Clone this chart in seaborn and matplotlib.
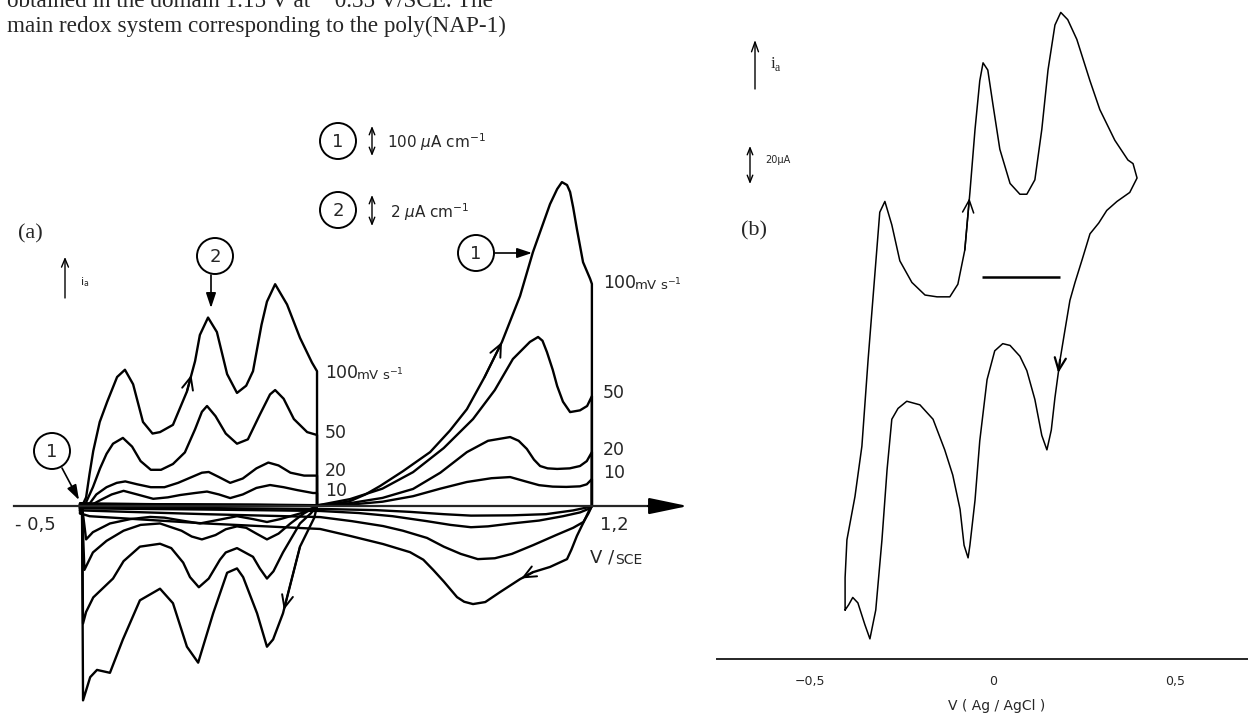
import matplotlib
matplotlib.use("Agg")
import matplotlib.pyplot as plt
from matplotlib.patches import Ellipse, FancyArrowPatch
import pandas as pd
import seaborn as sns

sns.set_style("white")
plt.rcParams["font.family"] = ["DejaVu Sans"]
plt.rcParams["lines.solid_joinstyle"] = "round"
plt.rcParams["lines.solid_capstyle"] = "round"

W, H = 1248, 715

# ---------------- (a) poly(NAP-1) film, cyclic voltammograms ----------------
scan_rates = ["100", "50", "20", "10"]

# redox system (2): potential in V/SCE, current in uA cm-1 (2 uA cm-1 scale)
s2_100_V = [-0.362, -0.350, -0.340, -0.329, -0.310, -0.288, -0.259, -0.236, -0.212, -0.183,
            -0.155, -0.133, -0.095, -0.054, -0.030, -0.016, 0.008, 0.034, 0.064, 0.093,
            0.120, 0.140, 0.165, 0.181, 0.205, 0.240, 0.278, 0.313, 0.328,
            0.328, 0.320, 0.278, 0.228, 0.199, 0.181, 0.152, 0.111, 0.093, 0.064,
            0.023, -0.021, -0.054, -0.095, -0.133, -0.192, -0.242, -0.280, -0.318, -0.338,
            -0.359, -0.362]
s2_100_i = [0.0, 0.6, 2.2, 3.8, 5.8, 7.2, 8.9, 9.4, 8.4, 5.8,
            5.0, 5.1, 5.6, 7.9, 10.0, 11.8, 13.0, 12.0, 9.1, 7.8,
            8.3, 9.3, 12.5, 14.1, 15.3, 13.9, 11.6, 9.9, 9.3,
            0.0, -0.8, -2.8, -7.4, -9.2, -9.7, -7.4, -4.9, -4.3, -4.6,
            -7.4, -10.8, -9.7, -6.7, -5.7, -6.5, -9.2, -11.5, -11.3, -11.8,
            -13.4, 0.0]

s2_50_V = [-0.355, -0.330, -0.309, -0.290, -0.271, -0.242, -0.215, -0.190, -0.160, -0.130,
           -0.095, -0.060, -0.030, -0.010, 0.005, 0.030, 0.060, 0.093, 0.125, 0.160,
           0.190, 0.205, 0.230, 0.260, 0.299, 0.328,
           0.328, 0.310, 0.278, 0.228, 0.200, 0.181, 0.160, 0.140, 0.093, 0.060,
           0.043, 0.010, -0.019, -0.045, -0.065, -0.100, -0.133, -0.192, -0.240, -0.271,
           -0.329, -0.350, -0.359, -0.362]
s2_50_i = [0.0, 1.3, 2.6, 3.6, 4.3, 4.7, 4.1, 3.1, 2.5, 2.5,
           2.9, 3.7, 5.3, 6.5, 6.9, 6.2, 5.0, 4.3, 4.6, 6.3,
           7.7, 8.0, 7.4, 6.0, 5.1, 4.9,
           0.0, -0.5, -1.2, -3.2, -4.5, -5.0, -4.3, -3.5, -2.9, -3.2,
           -3.7, -5.0, -5.6, -4.9, -3.9, -2.9, -2.6, -2.8, -3.8, -5.0,
           -6.3, -7.3, -8.1, 0.0]

s2_20_V = [-0.345, -0.320, -0.290, -0.260, -0.235, -0.200, -0.160, -0.120, -0.080, -0.040,
           -0.010, 0.010, 0.040, 0.073, 0.110, 0.150, 0.185, 0.215, 0.250, 0.290, 0.328,
           0.328, 0.290, 0.250, 0.215, 0.181, 0.150, 0.120, 0.093, 0.060, 0.030,
           -0.010, -0.040, -0.070, -0.133, -0.190, -0.240, -0.290, -0.330, -0.355, -0.362]
s2_20_i = [0.0, 0.8, 1.3, 1.6, 1.7, 1.5, 1.3, 1.3, 1.6, 2.0,
           2.3, 2.35, 2.0, 1.6, 1.9, 2.6, 3.0, 2.8, 2.3, 2.1, 2.1,
           0.0, -0.5, -1.2, -1.9, -2.3, -1.9, -1.5, -1.4, -1.6, -2.0,
           -2.3, -2.1, -1.7, -1.2, -1.3, -1.7, -2.4, -3.2, -4.4, 0.0]

s2_10_V = [-0.340, -0.309, -0.275, -0.240, -0.200, -0.153, -0.110, -0.074, -0.030, 0.005,
           0.040, 0.073, 0.110, 0.150, 0.190, 0.230, 0.270, 0.316, 0.328,
           0.328, 0.280, 0.220, 0.181, 0.140, 0.093, 0.050, -0.016, -0.070, -0.120,
           -0.162, -0.220, -0.280, -0.330, -0.350, -0.362]
s2_10_i = [0.0, 0.4, 0.8, 1.05, 0.8, 0.5, 0.6, 0.76, 0.9, 1.0,
           0.8, 0.55, 0.8, 1.25, 1.45, 1.3, 1.1, 0.9, 0.9,
           0.0, -0.5, -0.9, -1.1, -0.9, -0.7, -0.9, -1.2, -1.0, -0.8,
           -0.75, -0.9, -1.2, -1.8, -2.3, 0.0]

# redox system (1): current in uA cm-1 (100 uA cm-1 scale)
s1_100_V = [-0.368, -0.368, -0.300, -0.100, 0.150, 0.328, 0.380, 0.425, 0.470, 0.513,
            0.580, 0.660, 0.718, 0.768, 0.820, 0.871, 0.924, 0.962, 1.012, 1.033,
            1.047, 1.062, 1.071, 1.080, 1.091, 1.109, 1.130, 1.135,
            1.135, 1.125, 1.115, 1.091, 1.075, 1.062, 1.012, 0.962, 0.924, 0.865,
            0.822, 0.786, 0.760, 0.739, 0.700, 0.669, 0.640, 0.601, 0.522, 0.425,
            0.337, 0.000, -0.340, -0.368]
s1_100_i = [-25, 10, 8, 6, 5, 3, 8, 17, 40, 69,
            120, 186, 260, 334, 445, 566, 724, 876, 1041, 1093,
            1117, 1107, 1083, 1030, 955, 841, 783, 766,
            0, -20, -45, -103, -150, -183, -210, -228, -252, -297,
            -331, -338, -330, -314, -260, -220, -185, -159, -131, -103,
            -79, -60, -35, -25]

s1_50_V = [-0.368, -0.368, 0.000, 0.328, 0.425, 0.520, 0.610, 0.700, 0.786, 0.850,
           0.903, 0.953, 0.977, 0.990, 1.003, 1.020, 1.033, 1.050, 1.071, 1.100,
           1.121, 1.135,
           1.135, 1.125, 1.110, 1.080, 1.030, 0.962, 0.900, 0.850, 0.800, 0.750,
           0.700, 0.651, 0.580, 0.522, 0.430, 0.337, 0.000, -0.368]
s1_50_i = [-15, 8, 5, 2, 24, 60, 117, 200, 300, 400,
           507, 566, 583, 570, 531, 470, 414, 360, 324, 330,
           345, 379,
           0, -25, -55, -75, -100, -135, -165, -180, -183, -165,
           -140, -110, -85, -69, -52, -38, -28, -15]

s1_20_V = [-0.368, -0.368, 0.328, 0.425, 0.520, 0.610, 0.690, 0.768, 0.830, 0.895,
           0.920, 0.944, 0.965, 0.983, 1.005, 1.033, 1.070, 1.100, 1.120, 1.135,
           1.135, 1.125, 1.100, 1.050, 0.980, 0.900, 0.830, 0.780, 0.720, 0.650,
           0.550, 0.450, 0.337, 0.000, -0.368]
s1_20_i = [-8, 6, 1, 10, 28, 59, 115, 186, 225, 238,
           225, 197, 160, 138, 130, 128, 130, 138, 155, 186,
           0, -10, -22, -35, -50, -60, -70, -73, -65, -52,
           -35, -24, -17, -12, -8]

s1_10_V = [-0.368, -0.368, 0.328, 0.425, 0.520, 0.610, 0.690, 0.768, 0.840, 0.895,
           0.940, 0.980, 1.020, 1.060, 1.100, 1.120, 1.135,
           1.135, 1.120, 1.080, 1.000, 0.900, 0.780, 0.700, 0.600, 0.500, 0.337,
           0.000, -0.368]
s1_10_i = [-4, 5, 1, 5, 15, 34, 60, 83, 96, 100,
           85, 72, 67, 66, 68, 75, 93,
           0, -5, -15, -28, -32, -33, -28, -20, -14, -10,
           -7, -4]

# the 100 uA cm-1 bar of system (1) has the length of the 2 uA cm-1 bar of system (2)
sys1_to_sys2 = 2.0 / 100.0

# ---------------- (b) CV vs Ag/AgCl, current in uA ----------------
b_V = [-0.405, -0.405, -0.400, -0.378, -0.359, -0.342, -0.326, -0.310, -0.296, -0.277,
       -0.255, -0.222, -0.186, -0.153, -0.118, -0.096, -0.077, -0.063, -0.049, -0.036,
       -0.027, -0.014, 0.000, 0.019, 0.047, 0.074, 0.093, 0.115, 0.134, 0.151,
       0.170, 0.186, 0.205, 0.230, 0.266, 0.293, 0.334, 0.370, 0.384, 0.395,
       0.375, 0.340, 0.312, 0.290, 0.266, 0.245, 0.225, 0.211, 0.197, 0.184,
       0.170, 0.160, 0.148, 0.134, 0.115, 0.093, 0.074, 0.047, 0.027, 0.005,
       -0.016, -0.036, -0.049, -0.063, -0.068, -0.079, -0.090, -0.110, -0.132, -0.164,
       -0.200, -0.236, -0.260, -0.277, -0.290, -0.304, -0.321, -0.337, -0.351, -0.370,
       -0.384, -0.395, -0.405]
b_i = [-185, -167, -146, -122, -94, -46, -5, 36, 42, 29,
       9, -3, -10, -11, -11, -4, 15, 47, 82, 109,
       119, 115, 96, 71, 52, 46, 46, 54, 82, 115,
       140, 147, 143, 132, 109, 93, 76, 65, 63, 55,
       47, 42, 37, 30, 24, 10, -3, -13, -30, -46,
       -67, -85, -96, -88, -68, -52, -44, -38, -37, -41,
       -57, -91, -124, -149, -156, -149, -129, -110, -96, -79,
       -71, -69, -73, -79, -107, -146, -185, -201, -193, -181,
       -178, -182, -185]
b_zero_span = [-0.030, 0.185]

# ---------------------------------------------------------------------------
fig = plt.figure(figsize=(W / 100, H / 100), dpi=100)


def fxy(x, y):
    return (x / W, 1 - y / H)


def ftext(x, y, s, size, ha="left", va="center", family="DejaVu Sans", **kw):
    fig.text(x / W, 1 - y / H, s, fontsize=size, ha=ha, va=va, family=family, **kw)


def farrow(p0, p1, style, lw=1.0):
    fig.add_artist(FancyArrowPatch(fxy(*p0), fxy(*p1), transform=fig.transFigure,
                                   arrowstyle=style, mutation_scale=1, lw=lw,
                                   color="black", shrinkA=0, shrinkB=0))


def fcircle(x, y, r, label):
    fig.add_artist(Ellipse(fxy(x, y), 2 * r / W, 2 * r / H, transform=fig.transFigure,
                           fill=False, lw=1.4, color="black"))
    ftext(x, y + 1, label, 13, ha="center")


def curve_arrow(ax, V, I, k, frac, style, lw):
    # arrow head sitting on segment k -> k+1 of a curve, pointing along the sweep
    x0, y0 = V[k], I[k]
    x1, y1 = V[k + 1], I[k + 1]
    tip = (x0 + frac * (x1 - x0), y0 + frac * (y1 - y0))
    ax.annotate("", xy=tip, xytext=(x0, y0),
                arrowprops=dict(arrowstyle=style, lw=lw, color="black",
                                shrinkA=0, shrinkB=0, mutation_scale=1))


# ---- panel (a)
ax1 = fig.add_axes([0, 0, 700 / W, 1])
ax1.set_xlim(-0.6028, 1.4524)
ax1.set_ylim(-14.41, 34.90)

rows = []
loops2 = {"100": (s2_100_V, s2_100_i), "50": (s2_50_V, s2_50_i),
          "20": (s2_20_V, s2_20_i), "10": (s2_10_V, s2_10_i)}
loops1 = {"100": (s1_100_V, s1_100_i), "50": (s1_50_V, s1_50_i),
          "20": (s1_20_V, s1_20_i), "10": (s1_10_V, s1_10_i)}
for r in scan_rates:
    V, I = loops1[r]
    rows += [dict(V=v, i=c * sys1_to_sys2, loop="1-" + r) for v, c in zip(V, I)]
    V, I = loops2[r]
    rows += [dict(V=v, i=c, loop="2-" + r) for v, c in zip(V, I)]
df_a = pd.DataFrame(rows)
sns.lineplot(data=df_a, x="V", y="i", units="loop", estimator=None, sort=False,
             color="black", lw=1.7, ax=ax1)

for s in ["top", "left", "right"]:
    ax1.spines[s].set_visible(False)
ax1.spines["bottom"].set_position(("data", 0))
ax1.spines["bottom"].set_bounds(-0.5617, 1.33)
ax1.spines["bottom"].set_linewidth(1.6)
ax1.set_xticks([-0.5, 1.2])
ax1.set_xticklabels(["- 0,5", "1,2"], fontsize=13)
ax1.set_yticks([])
ax1.tick_params(axis="x", direction="in", length=6, width=1.2, pad=7)
ax1.set_xlabel("")
ax1.set_ylabel("")
ax1.annotate("", xy=(1.417, 0), xytext=(1.30, 0),
             arrowprops=dict(arrowstyle="-|>,head_length=24,head_width=5",
                             mutation_scale=1, lw=1.6, color="black",
                             shrinkA=0, shrinkB=0))

# sweep-direction arrows
s1_100_ip = [c * sys1_to_sys2 for c in s1_100_i]
curve_arrow(ax1, s2_100_V, s2_100_i, 13, 0.55, "->,head_length=9,head_width=4", 1.4)
curve_arrow(ax1, s2_100_V, s2_100_i, 31, 0.95, "->,head_length=9,head_width=4", 1.4)
curve_arrow(ax1, s1_100_V, s1_100_ip, 14, 1.0, "->,head_length=9,head_width=4", 1.4)
curve_arrow(ax1, s1_100_V, s1_100_ip, 35, 0.9, "->,head_length=9,head_width=4", 1.4)

# scan-rate labels
ftext(325, 373, "100", 12.5)
ftext(356, 375, "mV s$^{-1}$", 9.5)
ftext(325, 433, "50", 12.5)
ftext(325, 471, "20", 12.5)
ftext(325, 491, "10", 12.5)
ftext(603, 283, "100", 12.5)
ftext(634, 285, "mV s$^{-1}$", 9.5)
ftext(603, 393, "50", 12.5)
ftext(603, 450, "20", 12.5)
ftext(603, 473, "10", 12.5)

ftext(590, 558, "V /", 13)
ftext(615, 560, "SCE", 10)

# scale bars
fcircle(338, 141, 18, "1")
farrow((372, 126), (372, 156), "<->,head_length=5,head_width=2", 1.0)
ftext(387, 142, "100 $\\mu$A cm$^{-1}$", 11)
fcircle(338, 210, 18, "2")
farrow((372, 195), (372, 226), "<->,head_length=5,head_width=2", 1.0)
ftext(390, 212, "2 $\\mu$A cm$^{-1}$", 11)

# system markers
fcircle(215, 256, 18, "2")
farrow((211, 275), (211, 308), "-|>,head_length=9,head_width=3", 1.2)
fcircle(52, 451, 18, "1")
farrow((62, 468), (79, 500), "-|>,head_length=9,head_width=3", 1.2)
fcircle(476, 253, 18, "1")
farrow((495, 253), (532, 253), "-|>,head_length=9,head_width=3", 1.2)

ftext(30, 234, "(a)", 16, ha="center", family="Liberation Serif")
farrow((65, 298), (65, 257), "->,head_length=6,head_width=2.5", 1.0)
ftext(80, 282, "i$_{\\mathregular{a}}$", 8)

# ---- panel (b)
ax2 = fig.add_axes([717 / W, 0, 531 / W, 1])
ax2.set_xlim(-0.756, 0.699)
ax2.set_ylim(-243.3, 153.9)
df_b = pd.DataFrame({"V": b_V, "i": b_i})
sns.lineplot(data=df_b, x="V", y="i", estimator=None, sort=False,
             color="black", lw=1.1, ax=ax2)
ax2.hlines(0, b_zero_span[0], b_zero_span[1], color="black", lw=1.8)
curve_arrow(ax2, b_V, b_i, 16, 0.9, "->,head_length=9,head_width=4", 1.1)
curve_arrow(ax2, b_V, b_i, 49, 0.35, "->,head_length=9,head_width=4", 1.6)

for s in ["top", "left", "right"]:
    ax2.spines[s].set_visible(False)
ax2.spines["bottom"].set_position(("data", -212))
ax2.spines["bottom"].set_linewidth(1.4)
ax2.set_xticks([-0.5, 0, 0.5])
ax2.set_xticklabels(["\u22120,5", "0", "0,5"], fontsize=9)
ax2.set_yticks([])
ax2.tick_params(axis="x", direction="out", length=4, width=1.2, pad=8)
ax2.set_xlabel("")
ax2.set_ylabel("")
ftext(997, 706, "V ( Ag / AgCl )", 10, ha="center")

ftext(754, 231, "(b)", 16, ha="center", family="Liberation Serif")
farrow((755, 89), (755, 40), "->,head_length=7,head_width=2.5", 1.0)
ftext(770, 64, "i$_{\\mathregular{a}}$", 12, family="Liberation Serif")
farrow((750, 146), (750, 184), "<->,head_length=5,head_width=2", 1.0)
ftext(765, 160, "20\u00b5A", 7)

# ---- running text above the figure (first line runs off the top edge)
ftext(7, 7, "obtained in the domain 1.15 V at \u2212 0.35 V/SCE. The", 16.7,
      va="baseline", family="Liberation Serif")
ftext(7, 32, "main redox system corresponding to the poly(NAP-1)", 16.7,
      va="baseline", family="Liberation Serif")

fig.savefig("out.png", dpi=100)
